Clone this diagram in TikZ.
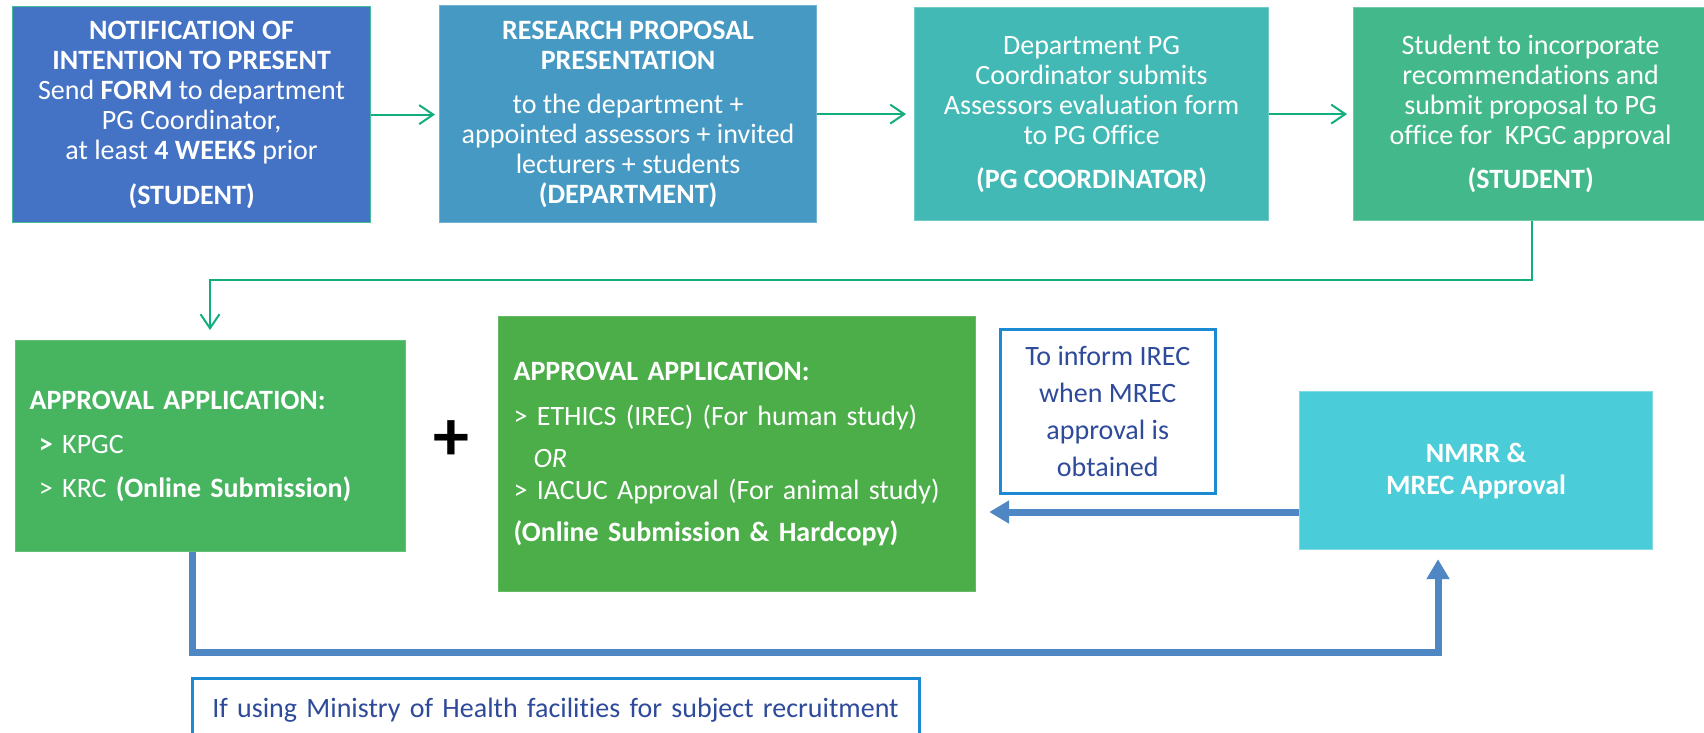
\documentclass[tikz,border=0pt]{standalone}
\usepackage{fontspec}
\setmainfont{Carlito}[RawFeature={-liga}]
\usetikzlibrary{arrows.meta}
\definecolor{cA}{HTML}{4472C4}
\definecolor{cB}{HTML}{4599C2}
\definecolor{cC}{HTML}{42B9B4}
\definecolor{cD}{HTML}{43B98B}
\definecolor{cE}{HTML}{47B460}
\definecolor{cF}{HTML}{4BAE48}
\definecolor{cG}{HTML}{4ACCD9}
\definecolor{garr}{HTML}{13AE7E}
\definecolor{barr}{HTML}{4F86C4}
\definecolor{nblue}{HTML}{1B8AD3}
\definecolor{ntext}{HTML}{2E4A9B}
\newcommand\fsz{\fontsize{28}{30}\selectfont}
\begin{document}
\begin{tikzpicture}[x=1pt,y=-1pt,
  topbox/.style={fill=#1, draw=#1!75!white, line width=1.2pt, text=white,
    align=center, inner sep=0pt, anchor=north west, font=\fsz},
  lowbox/.style={fill=#1, draw=#1!85!white, line width=1.2pt, text=white,
    align=left, inner ysep=0pt, anchor=north west, font=\fsz},
  notebox/.style={fill=white, draw=nblue, line width=2.5pt, text=ntext,
    anchor=north west, font=\fsz},
  garrow/.style={draw=garr, line width=2pt, line join=miter,
    -{Straight Barb[length=14pt,width=19pt]}},
  barrow/.style={draw=barr, line width=7pt, line join=miter,
    -{Triangle[length=20pt,width=22pt]}}
]
\useasboundingbox (0,0) rectangle (1704,732);
\fill[white] (0,0) rectangle (1704,732);

% top row
\node[topbox=cA, draw=garr!80!white, minimum width=358pt, minimum height=216pt] (b1) at (12,6)
  {\textbf{NOTIFICATION OF}\\ \textbf{INTENTION TO PRESENT}\\ Send \textbf{FORM} to department\\ PG Coordinator,\\ at least \textbf{4 WEEKS} prior\\[15pt] \textbf{(STUDENT)}};
\node[topbox=cB, minimum width=377pt, minimum height=217pt] (b2) at (439,5)
  {\textbf{RESEARCH PROPOSAL}\\ \textbf{PRESENTATION}\\[14pt] to the department +\\ appointed assessors + invited\\ lecturers + students\\ \textbf{(DEPARTMENT)}};
\node[topbox=cC, minimum width=354pt, minimum height=213pt] (b3) at (914,7)
  {Department PG\\ Coordinator submits\\ Assessors evaluation form\\ to PG Office\\[14pt] \textbf{(PG COORDINATOR)}};
\node[topbox=cD, minimum width=354pt, minimum height=213pt] (b4) at (1353,7)
  {Student to incorporate\\ recommendations and\\ submit proposal to PG\\ office for\ \ KPGC approval\\[14pt] \textbf{(STUDENT)}};

% bottom row
\node[lowbox=cE, minimum width=390pt, minimum height=211pt, inner xsep=14pt, text width=362pt] (b5) at (15,340)
  {\textbf{APPROVAL APPLICATION:}\\[14pt] \ \textbf{>} KPGC\\[14pt] \ > KRC \textbf{(Online Submission)}};
\node[lowbox=cF, minimum width=477pt, minimum height=275pt, inner xsep=15pt, text width=447pt] (b6) at (498,316)
  {\textbf{APPROVAL APPLICATION:}\\[15pt] > ETHICS (IREC) (For human study)\\[12pt] \hspace*{20pt}\textit{OR}\\[2pt] > IACUC Approval (For animal study)\\[12pt] \textbf{(Online Submission \& Hardcopy)}};
\node[font=\fontsize{72}{72}\selectfont\bfseries, inner sep=0pt] (plus) at (451,441) {+};

\node[notebox, minimum width=215pt, minimum height=164pt, align=center, inner sep=0pt,
  font=\fontsize{28}{37}\selectfont] (note) at (999,328)
  {To inform IREC\\ when MREC\\ approval is\\ obtained};
\node[topbox=cG, draw=cG!70!white, minimum width=353pt, minimum height=158pt,
  font=\fontsize{28}{32}\selectfont] (nmrr) at (1299,391)
  {\textbf{NMRR \&}\\ \textbf{MREC Approval}};

\node[notebox, minimum width=727pt, minimum height=64pt, inner xsep=20pt, inner ysep=0pt,
  text width=687pt, align=left] (moh) at (191,677)
  {If using Ministry of Health facilities for subject recruitment};

% green connectors
\draw[garrow, shorten >=4pt] (b1.east) -- (b1.east -| b2.west);
\draw[garrow, shorten >=8pt] (b2.east) -- (b2.east -| b3.west);
\draw[garrow, shorten >=6pt] (b3.east) -- (b3.east -| b4.west);
\coordinate (g1) at (1532,280);
\coordinate (g2) at (210,280);
\draw[garrow, shorten >=10pt] (b4.south -| g1) -- (g1) -- (g2) -- (b5.north -| g2);

% blue connectors
\coordinate (ya) at (0,512);
\draw[barrow, shorten >=13pt] (nmrr.west |- ya) -- (b6.east |- ya);
\coordinate (c1) at (192,652);
\coordinate (c2) at (1438,652);
\draw[barrow, shorten >=9pt] (b5.south -| c1) -- (c1) -- (c2) -- (nmrr.south -| c2);
\end{tikzpicture}
\end{document}
